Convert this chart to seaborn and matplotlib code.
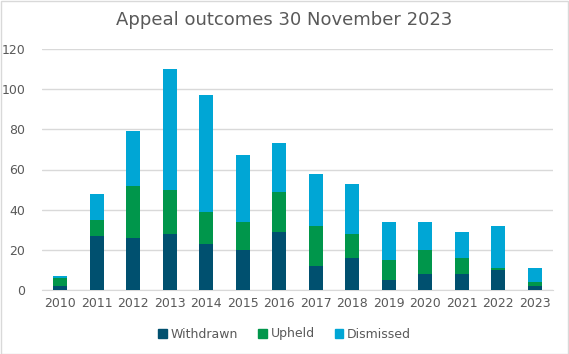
import numpy as np
import pandas as pd
import matplotlib.pyplot as plt
import seaborn as sns
from matplotlib.patches import Rectangle, Patch

years = ['2010', '2011', '2012', '2013', '2014', '2015', '2016',
         '2017', '2018', '2019', '2020', '2021', '2022', '2023']
withdrawn = [2, 27, 26, 28, 23, 20, 29, 12, 16, 5, 8, 8, 10, 2]
upheld = [4, 8, 26, 22, 16, 14, 20, 20, 12, 10, 12, 8, 1, 2]
dismissed = [1, 13, 27, 60, 58, 33, 24, 26, 25, 19, 14, 13, 21, 7]

colors = {'Withdrawn': '#00506F', 'Upheld': '#00964B', 'Dismissed': '#00A6D5'}

df = pd.DataFrame({'year': years, 'Withdrawn': withdrawn,
                   'Upheld': upheld, 'Dismissed': dismissed})
# cumulative tops for stacking
df['top_w'] = df['Withdrawn']
df['top_u'] = df['Withdrawn'] + df['Upheld']
df['top_d'] = df['top_u'] + df['Dismissed']

sns.set_style('white')
plt.rcParams['font.family'] = ['DejaVu Sans']

fig = plt.figure(figsize=(5.69, 3.54), dpi=100)
ax = fig.add_axes([42 / 569, 1 - 290 / 354, (553 - 42) / 569, (290 - 49) / 354])

# draw tallest first so lower segments sit on top
for col, name in [('top_d', 'Dismissed'), ('top_u', 'Upheld'), ('top_w', 'Withdrawn')]:
    sns.barplot(data=df, x='year', y=col, color=colors[name], width=0.39,
                saturation=1, linewidth=0, ax=ax, zorder=3)

ax.set_ylim(0, 120)
ax.set_yticks(range(0, 121, 20))
ax.yaxis.grid(True, color='#D9D9D9', linewidth=1, zorder=0)
ax.set_axisbelow(True)
ax.set_xlabel('')
ax.set_ylabel('')
for s in ['top', 'right', 'left']:
    ax.spines[s].set_visible(False)
ax.spines['bottom'].set_color('#D9D9D9')
ax.tick_params(axis='both', length=0, labelsize=9, labelcolor='#595959')
ax.tick_params(axis='y', pad=12)
ax.tick_params(axis='x', pad=5)

fig.text(0.5, 1 - 20 / 354, 'Appeal outcomes 30 November 2023', ha='center', va='center',
         fontsize=13, color='#595959')

handles = [Patch(color=colors[n], label=n) for n in ['Withdrawn', 'Upheld', 'Dismissed']]
leg = fig.legend(handles=handles, loc='center', bbox_to_anchor=(0.5, 1 - 334 / 354), ncol=3,
                 frameon=False, fontsize=9, handlelength=0.7, handleheight=0.7,
                 handletextpad=0.3, columnspacing=1.6)
for t in leg.get_texts():
    t.set_color('#595959')

fig.patches.append(Rectangle((0.5 / 569, 0.5 / 354), 1 - 1.5 / 569, 1 - 1.5 / 354,
                             transform=fig.transFigure, fill=False,
                             edgecolor='#D9D9D9', linewidth=1))

fig.savefig('out.png', dpi=100)
